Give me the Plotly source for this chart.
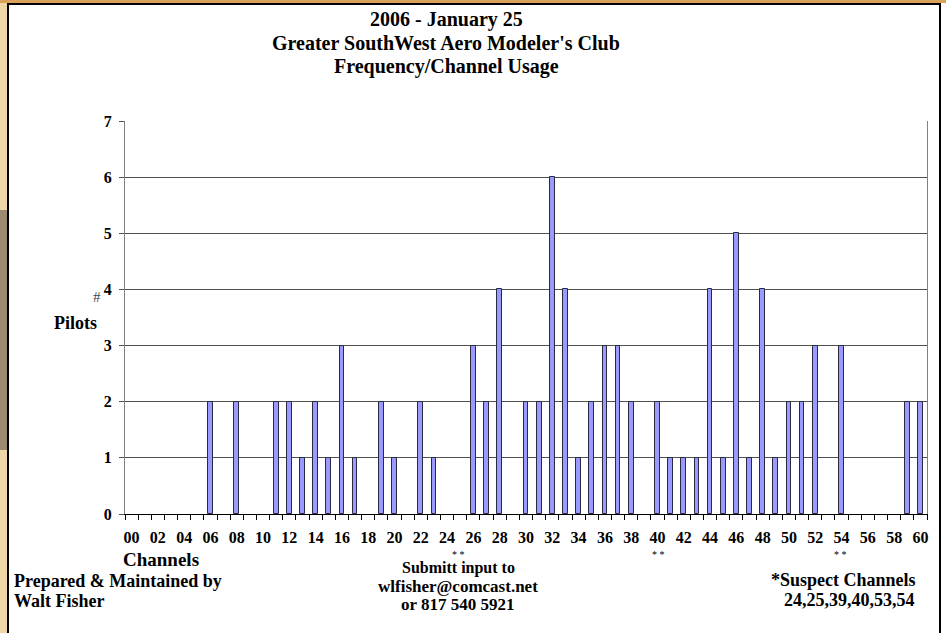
import plotly.graph_objects as go

# ---- data ----
channels = list(range(0, 61))
channel_labels = [f"{c:02d}" for c in range(0, 61, 2)]
channel_label_pos = list(range(0, 61, 2))
pilots = [0, 0, 0, 0, 0, 0, 2, 0, 2, 0,   # 00-09
          0, 2, 2, 1, 2, 1, 3, 1, 0, 2,   # 10-19
          1, 0, 2, 1, 0, 0, 3, 2, 4, 0,   # 20-29
          2, 2, 6, 4, 1, 2, 3, 3, 2, 0,   # 30-39
          2, 1, 1, 1, 4, 1, 5, 1, 4, 1,   # 40-49
          2, 2, 3, 0, 3, 0, 0, 0, 0, 2,   # 50-59
          2]                              # 60
y_ticks = list(range(0, 8))

title_lines = ["2006 - January 25",
               "Greater SouthWest Aero Modeler's Club",
               "Frequency/Channel Usage"]

W, H = 946, 633
L, R, T, B = 125, 19, 121, 119
PW, PH = W - L - R, H - T - B

def px(x):
    return (x - L) / PW

def py(y):
    return (H - B - y) / PH

SERIF = "Liberation Serif, Times New Roman, serif"

fig = go.Figure()
fig.add_trace(go.Bar(
    x=channels, y=pilots, width=0.36,
    marker=dict(color="#9999FF",
                line=dict(color="#2a2a40", width=[1 if v > 0 else 0 for v in pilots])),
    hoverinfo="x+y",
))

annotations = []
for i, line in enumerate(title_lines):
    annotations.append(dict(text=line, x=px(446), y=py(20 + 23 * i), xref="paper", yref="paper",
                            showarrow=False, xanchor="center", yanchor="middle",
                            font=dict(family=SERIF, size=20, color="black", weight="bold")))

def note(text, x, y, size=16, bold=True, anchor="center", color="black"):
    annotations.append(dict(text=text, x=px(x), y=py(y), xref="paper", yref="paper",
                            showarrow=False, xanchor=anchor, yanchor="middle", borderpad=0,
                            font=dict(family=SERIF, size=size, color=color,
                                      weight="bold" if bold else "normal")))

note("#", 97, 297, size=15, bold=False, color="#444")
note("Pilots", 75, 323, size=18)
note("Channels", 161, 559, size=19)
note("Prepared &amp; Maintained by", 13, 581, size=18, anchor="left")
note("Walt Fisher", 13, 601, size=18, anchor="left")
note("* *", 458, 554, size=10, bold=False)
note("Submitt input to", 458, 568, size=16)
note("wlfisher@comcast.net", 458, 586, size=17)
note("or 817 540 5921", 458, 604, size=17)
note("* *", 658, 554, size=10, bold=False)
note("* *", 840, 554, size=10, bold=False)
note("*Suspect Channels", 843, 580, size=18)
note("24,25,39,40,53,54", 849, 600, size=18)

shapes = [
    # background strips outside the white chart box
    dict(type="rect", xref="paper", yref="paper", x0=px(0), x1=px(7), y0=py(633), y1=py(0),
         fillcolor="#EFD6A6", line=dict(width=0), layer="below"),
    dict(type="rect", xref="paper", yref="paper", x0=px(0), x1=px(7), y0=py(450), y1=py(210),
         fillcolor="#9C8A70", line=dict(width=0), layer="below"),
    dict(type="rect", xref="paper", yref="paper", x0=px(0), x1=px(946), y0=py(3), y1=py(0),
         fillcolor="#D9A25A", line=dict(width=0), layer="below"),
    # white chart box
    dict(type="rect", xref="paper", yref="paper", x0=px(8), x1=px(940), y0=py(640), y1=py(4),
         fillcolor="white", line=dict(color="black", width=2), layer="below"),
]

fig.update_layout(
    width=W, height=H,
    margin=dict(l=L, r=R, t=T, b=B),
    paper_bgcolor="white", plot_bgcolor="white",
    showlegend=False,
    annotations=annotations, shapes=shapes,
    bargap=0,
)
fig.update_xaxes(
    range=[-0.5, 60.5], tickmode="array", tickvals=channel_label_pos, ticktext=channel_labels,
    ticks="", showgrid=False, zeroline=False,
    showline=True, linecolor="black", linewidth=1,
    tickfont=dict(family=SERIF, size=16, color="black", weight="bold"),
    ticklabelstandoff=9,
    minor=dict(tickmode="linear", tick0=-0.5, dtick=1, ticks="outside", ticklen=5,
               tickcolor="black", tickwidth=1, showgrid=False),
)
fig.update_yaxes(
    range=[0, 7], tickmode="array", tickvals=y_ticks,
    ticks="outside", ticklen=5, tickcolor="#555", tickwidth=1,
    showgrid=True, gridcolor="#505050", gridwidth=1, zeroline=False,
    showline=True, linecolor="#808080", linewidth=1, mirror=True,
    tickfont=dict(family=SERIF, size=16, color="black", weight="bold"),
    ticklabelstandoff=4,
)

fig.write_html("out.html", config={"displayModeBar": False},
               post_script="document.body.style.margin='0';")
